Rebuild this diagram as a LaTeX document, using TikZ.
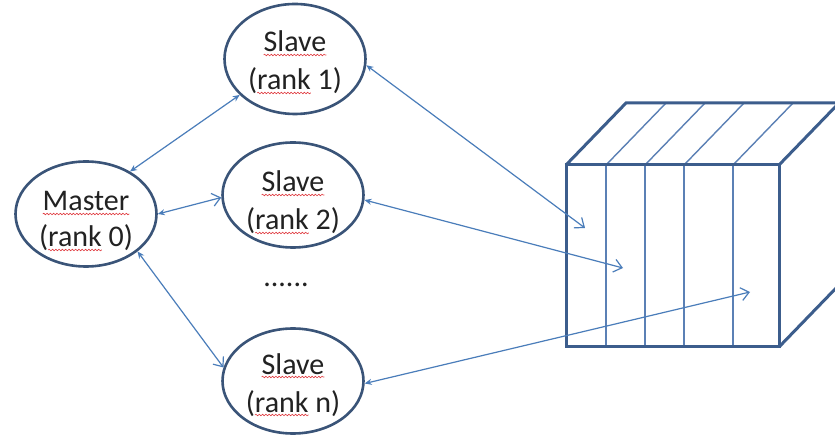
\documentclass[tikz,border=0pt]{standalone}
\usepackage{fontspec}
\setmainfont{Carlito}
\usetikzlibrary{arrows.meta,decorations.pathmorphing,shapes.geometric}

\definecolor{rimnavy}{HTML}{3A5478}
\definecolor{linkblue}{HTML}{4A7DBA}
\definecolor{cubeedge}{HTML}{3C5D8C}
\definecolor{slicecol}{HTML}{5B80B5}
\definecolor{inkgray}{HTML}{222222}
\definecolor{spellred}{HTML}{E0393E}

\tikzset{
  spell/.style={draw=spellred, line width=0.6pt, decorate,
    decoration={snake, amplitude=0.8pt, segment length=3.3pt}},
  proc/.style={ellipse, draw=rimnavy, line width=2.6pt, fill=white,
    minimum width=141pt, minimum height=105pt, inner sep=0pt},
  lbl/.style={font=\fontsize{30}{36}\selectfont, text=inkgray,
    inner sep=0pt, anchor=base},
  dottip/.tip={Stealth[length=7pt,width=6pt]},
  opentip/.tip={Straight Barb[length=8pt,width=13pt,line width=1.2pt]},
  link/.style={draw=linkblue, line width=1.2pt},
  cubeline/.style={draw=cubeedge, line width=3pt, line join=miter},
  slice/.style={draw=slicecol, line width=1.4pt},
}

% word with a wavy red underline
\newcommand\spellmark[1]{\tikz[baseline=(sm.base)]{%
  \node[shape=rectangle,draw=none,fill=none,inner sep=0pt,outer sep=0pt,anchor=base] (sm) {#1};%
  \draw[spell,overlay] ([yshift=-3pt]sm.base west) -- ([yshift=-3pt]sm.base east);}}

\begin{document}
\begin{tikzpicture}[x=1pt,y=-1pt]
  \useasboundingbox (0,0) rectangle (835,435);
  \fill[white] (0,0) rectangle (835,435);
  \clip (0,0) rectangle (835,435);

  % storage cube, split into slices
  \coordinate (f1) at (566,165);
  \coordinate (f2) at (779,165);
  \coordinate (f3) at (779,347);
  \coordinate (f4) at (566,347);
  \coordinate (b1) at (626,103);
  \coordinate (b2) at (839,103);
  \coordinate (b3) at (839,285);
  \foreach \x in {606,645,684,733}{
    \draw[slice] (\x,165) -- (\x,347);
    \draw[slice] (\x,165) -- ++(60,-62);
  }
  \draw[cubeline] (f1) -- (f2) -- (f3) -- (f4) -- cycle;
  \draw[cubeline] (f1) -- (b1) -- (b2) -- (f2);
  \draw[cubeline] (b2) -- (b3) -- (f3);

  % processes
  \node[proc] (m)  at (86,214)  {};
  \node[proc, minimum height=110pt] (s1) at (295,59) {};
  \node[proc] (s2) at (293,195) {};
  \node[proc] (sn) at (293,381) {};

  \node[lbl] (mA)  at (86,211)  {\spellmark{Master}};
  \node[lbl] (mB)  at (86,247)  {(\spellmark{rank} 0)};
  \node[lbl] (s1A) at (295,52)  {\spellmark{Slave}};
  \node[lbl] (s1B) at (295,90)  {(\spellmark{rank} 1)};
  \node[lbl] (s2A) at (293,192) {\spellmark{Slave}};
  \node[lbl] (s2B) at (293,230) {(\spellmark{rank} 2)};
  \node[lbl] (snA) at (293,374) {\spellmark{Slave}};
  \node[lbl] (snB) at (293,412) {(\spellmark{rank} n)};
  \node[lbl] (dots) at (286,287) {......};

  % target points inside the cube
  \coordinate (t1) at (585,228);
  \coordinate (t2) at (623,268);
  \coordinate (t3) at (750,292);

  % master <-> slaves
  \draw[link, dottip-dottip] (m.44) -- (s1.213);
  \draw[link, dottip-opentip] (m.0) -- (s2.182);
  \draw[link, dottip-opentip] (m.-36) -- (sn.169);

  % slaves <-> cube
  \draw[link, dottip-opentip] (s1.-5) -- (t1);
  \draw[link, dottip-opentip] (s2.-4) -- (t2);
  \draw[link, dottip-opentip] (sn.-2) -- (t3);
\end{tikzpicture}
\end{document}
